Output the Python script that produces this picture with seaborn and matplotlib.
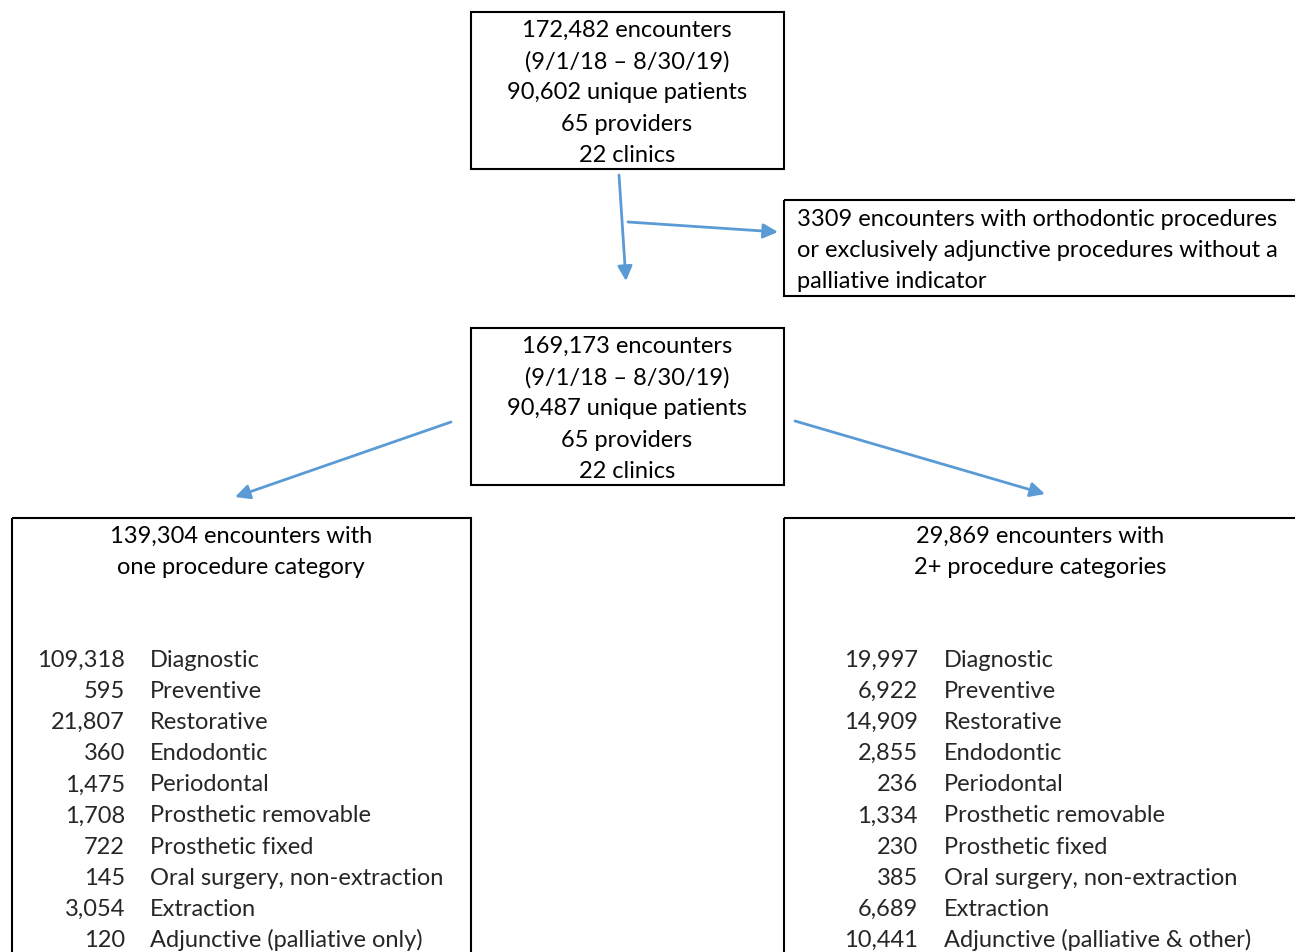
import matplotlib
matplotlib.use("Agg")
import matplotlib.pyplot as plt
import seaborn as sns
from matplotlib.patches import Rectangle

# text of the flowchart
top_lines = ['172,482 encounters', '(9/1/18 \u2013 8/30/19)', '90,602 unique patients',
             '65 providers', '22 clinics']
excluded_lines = ['3309 encounters with orthodontic procedures',
                  'or exclusively adjunctive procedures without a',
                  'palliative indicator']
mid_lines = ['169,173 encounters', '(9/1/18 \u2013 8/30/19)', '90,487 unique patients',
             '65 providers', '22 clinics']
left_header = ['139,304 encounters with', 'one procedure category']
right_header = ['29,869 encounters with', '2+ procedure categories']

categories_left = ['Diagnostic', 'Preventive', 'Restorative', 'Endodontic', 'Periodontal',
                   'Prosthetic removable', 'Prosthetic fixed', 'Oral surgery, non-extraction',
                   'Extraction', 'Adjunctive (palliative only)']
categories_right = categories_left[:-1] + ['Adjunctive (palliative & other)']
counts_left = [109318, 595, 21807, 360, 1475, 1708, 722, 145, 3054, 120]
counts_right = [19997, 6922, 14909, 2855, 236, 1334, 230, 385, 6689, 10441]

sns.set_style('white')
plt.rcParams['font.family'] = ['Lato', 'DejaVu Sans']

fig = plt.figure(figsize=(12.95, 9.52), dpi=100)
ax = fig.add_axes([0, 0, 1, 1])
ax.set_xlim(0, 1295)
ax.set_ylim(952, 0)
ax.axis('off')

fs = 17
blue = '#5B9BD5'

def box(x0, y0, x1, y1):
    ax.add_patch(Rectangle((x0, y0), x1 - x0, y1 - y0, fill=False,
                           edgecolor='black', linewidth=1.5, clip_on=False))

def lines(txts, x, y0, ha='center', step=31.2):
    for i, t in enumerate(txts):
        ax.text(x, y0 + i * step, t, ha=ha, va='center', fontsize=fs, color='black')

def arrow(x0, y0, x1, y1):
    ax.annotate('', xy=(x1, y1), xytext=(x0, y0),
                arrowprops=dict(arrowstyle='-|>', color=blue, lw=2,
                                mutation_scale=22, shrinkA=0, shrinkB=0))

# boxes
box(471, 12, 784, 169)
box(784, 200, 1300, 296)
box(471, 328, 784, 485)
box(12, 518, 471, 960)
box(784, 518, 1300, 960)

# box text
lines(top_lines, 627, 30.5)
lines(excluded_lines, 797, 219.5, ha='left')
lines(mid_lines, 627, 346.5)
lines(left_header, 241, 536.5)
lines(right_header, 1040, 536.5)

list_y = 660.5
for i, (c, n) in enumerate(zip(categories_left, counts_left)):
    y = list_y + i * 31.1
    ax.text(125, y, f'{n:,}', ha='right', va='center', fontsize=fs)
    ax.text(150, y, c, ha='left', va='center', fontsize=fs)
for i, (c, n) in enumerate(zip(categories_right, counts_right)):
    y = list_y + i * 31.1
    ax.text(918, y, f'{n:,}', ha='right', va='center', fontsize=fs)
    ax.text(944, y, c, ha='left', va='center', fontsize=fs)

# arrows
arrow(619, 175, 626, 281)
arrow(628, 222, 778, 232)
arrow(451, 422, 235, 497)
arrow(795, 421, 1045, 494)

fig.savefig('out.png', dpi=100)
